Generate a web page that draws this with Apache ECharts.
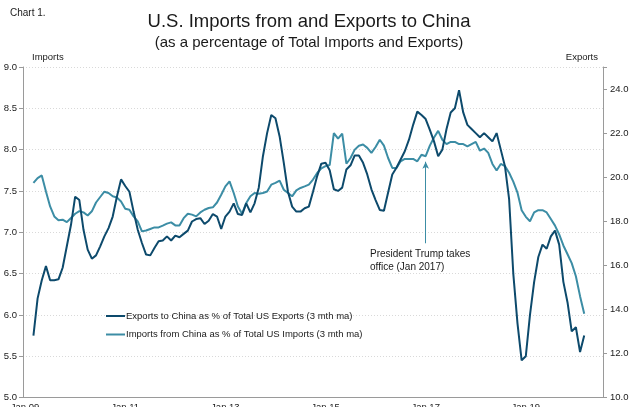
<!DOCTYPE html>
<html>
<head>
<meta charset="utf-8">
<script src="https://cdn.jsdelivr.net/npm/echarts@6/dist/echarts.min.js"></script>
<style>
  html, body { margin: 0; padding: 0; background: #ffffff; }
  #chart { width: 631px; height: 407px; }
</style>
</head>
<body>
<div id="chart"></div>
<script>
// Monthly categories, Jan 2009 onwards
const monthNames = ['Jan', 'Feb', 'Mar', 'Apr', 'May', 'Jun', 'Jul', 'Aug', 'Sep', 'Oct', 'Nov', 'Dec'];
const years = [2009, 2010, 2011, 2012, 2013, 2014, 2015, 2016, 2017, 2018, 2019, 2020];
const monthCount = 139;

// Exports to China as % of total US exports (3 mth ma), one row per year
const exportsShare = [
  null, null, 5.75, 6.20, 6.42, 6.59, 6.42, 6.42, 6.43, 6.57, 6.83, 7.09,
  7.43, 7.39, 7.03, 6.79, 6.68, 6.72, 6.83, 6.95, 7.05, 7.19, 7.43, 7.64,
  7.56, 7.49, 7.25, 7.03, 6.87, 6.73, 6.72, 6.81, 6.89, 6.90, 6.95, 6.90,
  6.96, 6.94, 6.98, 7.02, 7.13, 7.16, 7.17, 7.10, 7.14, 7.22, 7.19, 7.04,
  7.19, 7.25, 7.35, 7.22, 7.21, 7.35, 7.24, 7.35, 7.54, 7.92, 8.20, 8.42,
  8.38, 8.16, 7.84, 7.49, 7.31, 7.25, 7.25, 7.29, 7.31, 7.49, 7.68, 7.83,
  7.84, 7.75, 7.52, 7.50, 7.54, 7.76, 7.81, 7.93, 7.93, 7.84, 7.70, 7.52,
  7.39, 7.27, 7.26, 7.48, 7.70, 7.78, 7.88, 7.98, 8.12, 8.30, 8.46, 8.42,
  8.37, 8.24, 8.10, 7.92, 8.00, 8.25, 8.45, 8.50, 8.72, 8.45, 8.30, 8.25,
  8.20, 8.15, 8.20, 8.15, 8.10, 8.20, 8.00, 7.80, 7.40, 6.50, 5.90, 5.45,
  5.50, 6.00, 6.40, 6.70, 6.85, 6.80, 6.95, 7.02, 6.85, 6.40, 6.15, 5.80,
  5.85, 5.55, 5.75
];

// Imports from China as % of total US imports (3 mth ma), one row per year
const importsShare = [
  null, null, 19.74, 19.96, 20.08, 19.35, 18.67, 18.22, 18.05, 18.07, 17.96, 18.15,
  18.34, 18.46, 18.40, 18.26, 18.45, 18.85, 19.10, 19.34, 19.28, 19.13, 19.08, 18.90,
  18.57, 18.52, 18.22, 17.99, 17.54, 17.58, 17.65, 17.72, 17.72, 17.80, 17.89, 17.95,
  17.81, 17.81, 18.14, 18.34, 18.30, 18.22, 18.40, 18.52, 18.60, 18.63, 18.85, 19.20,
  19.58, 19.81, 19.28, 18.67, 18.34, 18.83, 19.13, 19.28, 19.25, 19.28, 19.35, 19.66,
  19.74, 19.84, 19.43, 19.28, 19.13, 19.40, 19.51, 19.58, 19.66, 19.89, 20.19, 20.40,
  20.50, 20.55, 22.00, 21.75, 21.98, 20.61, 20.87, 21.25, 21.43, 21.48, 21.33, 21.10,
  21.37, 21.70, 21.43, 20.87, 20.42, 20.42, 20.72, 20.83, 20.83, 20.83, 20.72, 21.02,
  20.95, 21.43, 21.80, 22.10, 21.70, 21.50, 21.60, 21.60, 21.50, 21.50, 21.40, 21.50,
  21.60, 21.20, 21.30, 21.10, 20.60, 20.30, 20.60, 20.50, 20.20, 19.80, 19.30, 18.50,
  18.20, 18.00, 18.40, 18.50, 18.50, 18.40, 18.10, 17.80, 17.40, 16.90, 16.50, 16.10,
  15.50, 14.60, 13.80
];

// Axis tick values
const leftTicks = { min: 5, max: 9, step: 0.5 };
const rightTicks = { min: 10, max: 25, step: 2 };

// Annotation: the month it points at, and the span of its arrow (export-axis units)
const annotationMonth = 'Jan 17';
const annotationArrow = [17.0, 20.7];
const annotationText = 'President Trump takes\noffice (Jan 2017)';

const seriesNames = [
  'Exports to China as % of Total US Exports (3 mth ma)',
  'Imports from China as % of Total US Imports (3 mth ma)'
];

const months = [];
years.forEach(y => monthNames.forEach(m => months.push(m + ' ' + String(y).slice(2))));
const categories = months.slice(0, monthCount);

const darkBlue = '#0d4a6c';
const teal = '#3c8da5';
const textColor = '#1a1a1a';
const fontFamily = '"Liberation Sans", Arial, sans-serif';
const everyTwoYears = (i) => i % 24 === 0;

const chart = echarts.init(document.getElementById('chart'), null, { renderer: 'canvas' });

chart.setOption({
  animation: false,
  backgroundColor: '#ffffff',
  textStyle: { fontFamily: fontFamily, color: textColor },
  grid: { left: 23, right: 28, top: 67, bottom: 9.5, containLabel: false, outerBoundsMode: 'none' },
  legend: {
    orient: 'vertical',
    left: 101,
    top: 306,
    itemWidth: 19,
    itemHeight: 2,
    itemGap: 8.5,
    icon: 'rect',
    data: seriesNames,
    textStyle: { fontSize: 9.5, color: textColor, fontFamily: fontFamily, padding: [0, 0, 0, -4] }
  },
  xAxis: {
    type: 'category',
    data: categories,
    boundaryGap: true,
    axisLine: { lineStyle: { color: '#9a9a9a', width: 1 } },
    axisTick: { inside: true, length: 4, interval: everyTwoYears, lineStyle: { color: '#9a9a9a' } },
    axisLabel: { interval: everyTwoYears, fontSize: 9.5, color: textColor, margin: 4.5, fontFamily: fontFamily },
    splitLine: { show: false }
  },
  yAxis: [
    {
      type: 'value',
      min: leftTicks.min,
      max: leftTicks.max,
      interval: leftTicks.step,
      position: 'left',
      axisLine: { show: true, lineStyle: { color: '#9a9a9a' } },
      axisTick: { show: true, length: 4, lineStyle: { color: '#9a9a9a' } },
      axisLabel: { formatter: v => v.toFixed(1), fontSize: 9.5, color: textColor, margin: 6, fontFamily: fontFamily },
      splitLine: { show: true, lineStyle: { color: '#d9d9d9', type: [1, 2], width: 1 } }
    },
    {
      type: 'value',
      min: rightTicks.min,
      max: rightTicks.max,
      interval: rightTicks.step,
      position: 'right',
      axisLine: { show: true, lineStyle: { color: '#9a9a9a' } },
      axisTick: { show: true, length: 4, lineStyle: { color: '#9a9a9a' } },
      axisLabel: {
        formatter: v => (v >= rightTicks.max ? '' : v.toFixed(1)),
        fontSize: 9.5, color: textColor, margin: 7, fontFamily: fontFamily
      },
      splitLine: { show: false }
    }
  ],
  series: [
    {
      name: seriesNames[0],
      type: 'line',
      yAxisIndex: 0,
      data: exportsShare,
      showSymbol: false,
      symbol: 'none',
      lineStyle: { color: darkBlue, width: 2 },
      itemStyle: { color: darkBlue },
      z: 3
    },
    {
      name: seriesNames[1],
      type: 'line',
      yAxisIndex: 1,
      data: importsShare,
      showSymbol: false,
      symbol: 'none',
      lineStyle: { color: teal, width: 2 },
      itemStyle: { color: teal },
      z: 2,
      markLine: {
        silent: true,
        symbol: ['none', 'arrow'],
        symbolSize: [5, 7],
        lineStyle: { color: teal, width: 1, type: 'solid' },
        label: { show: false },
        data: [[
          { coord: [annotationMonth, annotationArrow[0]] },
          { coord: [annotationMonth, annotationArrow[1]] }
        ]]
      }
    }
  ],
  graphic: [
    { type: 'text', left: 10, top: 8, style: { text: 'Chart 1.', font: '10px ' + fontFamily, fill: textColor } },
    { type: 'text', x: 309, y: 12, style: { text: 'U.S. Imports from and Exports to China', font: '18.5px ' + fontFamily, fill: textColor, align: 'center', verticalAlign: 'top' } },
    { type: 'text', x: 309, y: 35, style: { text: '(as a percentage of Total Imports and Exports)', font: '15px ' + fontFamily, fill: textColor, align: 'center', verticalAlign: 'top' } },
    { type: 'text', left: 32, top: 52, style: { text: 'Imports', font: '9.5px ' + fontFamily, fill: textColor } },
    { type: 'text', right: 33, top: 52, style: { text: 'Exports', font: '9.5px ' + fontFamily, fill: textColor } },
    { type: 'text', left: 370, top: 248, style: { text: annotationText, font: '10px ' + fontFamily, fill: textColor, lineHeight: 12.5 } }
  ]
});
</script>
</body>
</html>
